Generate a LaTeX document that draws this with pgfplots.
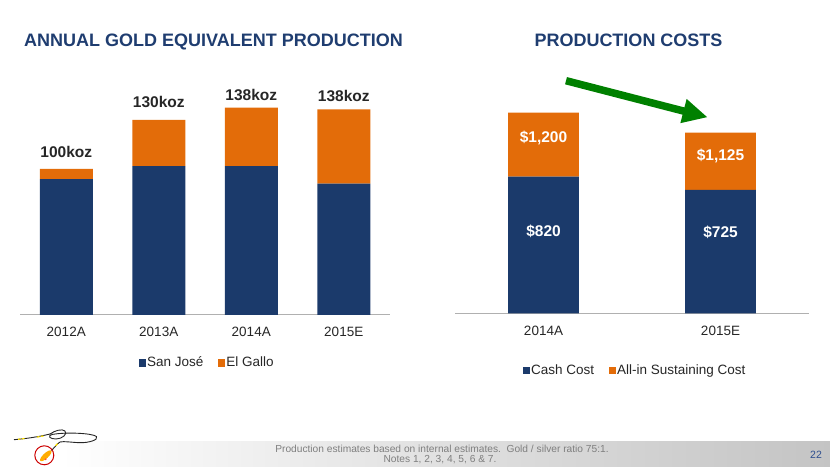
\documentclass[border=0pt]{standalone}
\usepackage{pgfplots}
\pgfplotsset{compat=1.18}
\usetikzlibrary{arrows.meta}
\usepackage{fontspec}
\setmainfont{Liberation Sans}
\definecolor{navy}{HTML}{1B3A6B}
\definecolor{orng}{HTML}{E36C09}
\definecolor{ttl}{HTML}{1F3D70}
\definecolor{dark}{HTML}{262626}
\definecolor{arrowgreen}{HTML}{008000}
\definecolor{axisgray}{HTML}{B0B0B0}
\definecolor{foot}{HTML}{7F7F7F}
\definecolor{pagenum}{HTML}{2F4F8F}
\definecolor{bandR}{HTML}{C4C4C4}
\definecolor{bandM}{HTML}{E0E0E0}

\pgfplotsset{
  mybars/.style={
    ybar stacked, bar shift=0pt, scale only axis, height=240bp, ymin=0,
    axis y line=none, axis x line*=bottom,
    x axis line style={-, draw=axisgray, line width=1bp},
    major tick length=0pt, xtick=data, clip=false,
    every x tick label/.append style={anchor=base, yshift=-22bp,
      font=\fontsize{13.5bp}{16bp}\selectfont, text=dark},
    legend style={draw=none, fill=none, legend columns=2,
      font=\fontsize{13.5bp}{16bp}\selectfont, text=dark, anchor=center,
      /tikz/every even column/.append style={column sep=13bp},
      nodes={inner sep=1.5bp}},
    legend image code/.code={\fill[##1] (0bp,-3.8bp) rectangle (7bp,3.4bp);},
  },
}
\tikzset{vlab/.style={font=\fontsize{15.5bp}{18bp}\selectfont\bfseries, anchor=base}}

\begin{document}
\begin{tikzpicture}[x=1bp,y=1bp]
\path[use as bounding box] (0,0) rectangle (830,467);

% footer band
\shade[left color=white, right color=bandR, middle color=bandM] (60,0) rectangle (830,25);

% titles
\node[font=\fontsize{18bp}{21bp}\selectfont\bfseries, text=ttl, anchor=base] at (213.5,420.5) {ANNUAL GOLD EQUIVALENT PRODUCTION};
\node[font=\fontsize{18bp}{21bp}\selectfont\bfseries, text=ttl, anchor=base] at (628.5,420.5) {PRODUCTION COSTS};

% left chart
\begin{axis}[mybars, width=370bp, at={(20bp,152bp)}, anchor=south west,
  xmin=-0.5, xmax=3.5, ymax=160, bar width=53bp,
  xticklabels={2012A,2013A,2014A,2015E},
  legend style={at={(rel axis cs:0.505,-0.199)}}]
\addplot[fill=navy, draw=none] coordinates {(0,90.5) (1,99.3) (2,99.3) (3,87.5)};
\addplot[fill=orng, draw=none] coordinates {(0,6.9) (1,30.7) (2,38.9) (3,49.6)};
\legend{San José, El Gallo}
\coordinate (k0) at (axis cs:0,105.2);
\coordinate (k1) at (axis cs:1,138.5);
\coordinate (k2) at (axis cs:2,143.0);
\coordinate (k3) at (axis cs:3,142.3);
\end{axis}
\node[vlab, text=dark] at (k0) {100koz};
\node[vlab, text=dark] at (k1) {130koz};
\node[vlab, text=dark] at (k2) {138koz};
\node[vlab, text=dark] at (k3) {138koz};

% right chart
\begin{axis}[mybars, width=354bp, at={(455bp,153.7bp)}, anchor=south west,
  xmin=-0.5, xmax=1.5, ymax=1440, bar width=70.7bp,
  xticklabels={2014A,2015E},
  legend style={at={(rel axis cs:0.508,-0.239)}}]
\addplot[fill=navy, draw=none] coordinates {(0,820) (1,740)};
\addplot[fill=orng, draw=none] coordinates {(0,384) (1,344)};
\legend{Cash Cost, All-in Sustaining Cost}
\coordinate (c0) at (axis cs:0,1026);
\coordinate (c1) at (axis cs:1,916.5);
\coordinate (c2) at (axis cs:0,462);
\coordinate (c3) at (axis cs:1,456);
\end{axis}
\node[vlab, text=white] at (c0) {\$1,200};
\node[vlab, text=white] at (c1) {\$1,125};
\node[vlab, text=white] at (c2) {\$820};
\node[vlab, text=white] at (c3) {\$725};

% green arrow
\draw[arrowgreen, line width=7.5bp, -{Triangle[length=25bp,width=23bp]}] (566,386.3) -- (707.7,349.7);

% footer text
\node[font=\fontsize{10.2bp}{12bp}\selectfont, text=foot, anchor=base] at (442,14.1) {Production estimates based on internal estimates.\ \ Gold / silver ratio 75:1.};
\node[font=\fontsize{10.2bp}{12bp}\selectfont, text=foot, anchor=base] at (440,4.1) {Notes 1, 2, 3, 4, 5, 6 \& 7.};
\node[font=\fontsize{10.5bp}{12bp}\selectfont, text=pagenum, anchor=base] at (816,8.4) {22};

% logo
\begin{scope}
\fill[orange!65!yellow, rotate around={43:(45.8,11.2)}] (45.8,11.2) ellipse (7.5bp and 2.6bp);
\fill[red!70] (45.7,7.7) circle (1bp);
\draw[black!85, line width=0.9bp] (14,27.3) .. controls (28,28.5) and (40,30.5) .. (50,33)
  .. controls (55,36.5) and (62,38.5) .. (65,36)
  .. controls (68,33) and (62,28) .. (56,28)
  .. controls (50,28) and (47,31) .. (52,32.5)
  .. controls (65,35) and (92,34) .. (96.5,30.5)
  .. controls (99,27) and (88,24) .. (80,24.3)
  .. controls (72,24.5) and (64,26) .. (60,25)
  .. controls (57,23) and (54,19) .. (51.5,16.5);
\draw[yellow!85!orange, line width=1.2bp] (18,27.7)--(20.5,28) (22,28.2)--(24.5,28.5) (37,29.9)--(39.5,30.3) (41,30.6)--(43.5,31.1) (57.5,23.3)--(55.5,21.2);
\draw[red!80!black, line width=1bp] (44.3,11.7) circle (9.5bp);
\end{scope}
\end{tikzpicture}
\end{document}
